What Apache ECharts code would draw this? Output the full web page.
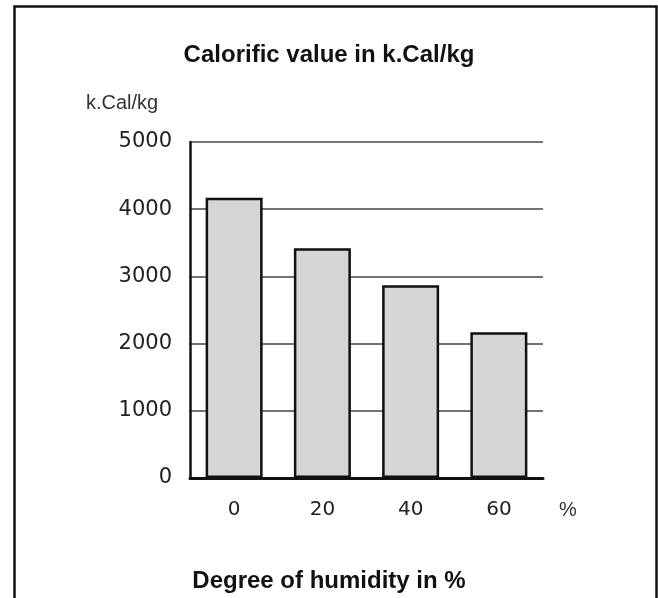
<!DOCTYPE html>
<html>
<head>
<meta charset="utf-8">
<style>
  html, body { margin: 0; padding: 0; background: #fff; }
  #chart-container { width: 658px; height: 598px; }
</style>
<script src="https://cdn.jsdelivr.net/npm/echarts@6/dist/echarts.min.js"></script>
</head>
<body>
<div id="chart-container"></div>
<script>
var humidity = ['0', '20', '40', '60'];
var calorific = [4170, 3420, 2870, 2170];
var yTicks = { min: 0, max: 5000, step: 1000 };

var dom = document.getElementById('chart-container');
var myChart = echarts.init(dom, null, { renderer: 'canvas' });

var font = '"Liberation Sans", Arial, Helvetica, sans-serif';

var option = {
  backgroundColor: '#fff',
  animation: false,
  title: [
    {
      text: 'Calorific value in k.Cal/kg',
      left: 'center',
      top: 38,
      textStyle: { fontFamily: font, fontSize: 24, fontWeight: 'bold', color: '#111' }
    },
    {
      text: 'Degree of humidity in %',
      left: 'center',
      top: 564,
      textStyle: { fontFamily: font, fontSize: 24, fontWeight: 'bold', color: '#111' }
    }
  ],
  graphic: [
    {
      type: 'rect',
      left: 12,
      top: 4,
      shape: { width: 642, height: 640 },
      style: { fill: 'none', stroke: '#111', lineWidth: 2.5 },
      silent: true
    }
  ],
  grid: { left: 190, right: 115, top: 142, bottom: 120 },
  xAxis: {
    type: 'category',
    data: humidity,
    name: '%',
    nameLocation: 'end',
    nameGap: 16,
    nameTextStyle: {
      fontFamily: font, fontSize: 20, color: '#333',
      verticalAlign: 'top', padding: [22, 0, 0, 0]
    },
    axisLine: { show: true, lineStyle: { color: '#111', width: 3 } },
    axisTick: { show: false },
    axisLabel: { margin: 22, fontFamily: '"DejaVu Sans", sans-serif', fontSize: 20, color: '#222' }
  },
  yAxis: {
    type: 'value',
    min: yTicks.min,
    max: yTicks.max,
    interval: yTicks.step,
    name: 'k.Cal/kg',
    nameLocation: 'end',
    nameGap: 29,
    nameTextStyle: { fontFamily: font, fontSize: 20, color: '#333', align: 'center', padding: [0, 136, 0, 0] },
    axisLine: { show: true, lineStyle: { color: '#111', width: 2.5 } },
    axisTick: { show: false },
    axisLabel: {
      margin: 18, fontFamily: '"DejaVu Sans", sans-serif', fontSize: 21, color: '#222',
      formatter: function (v) { return String(v); }
    },
    splitLine: { show: true, lineStyle: { color: '#444', width: 1.6 } }
  },
  series: [
    {
      type: 'bar',
      data: calorific,
      barWidth: 57,
      itemStyle: { color: '#d5d5d5', borderColor: '#111', borderWidth: 2.5 }
    }
  ]
};

myChart.setOption(option);
</script>
</body>
</html>
